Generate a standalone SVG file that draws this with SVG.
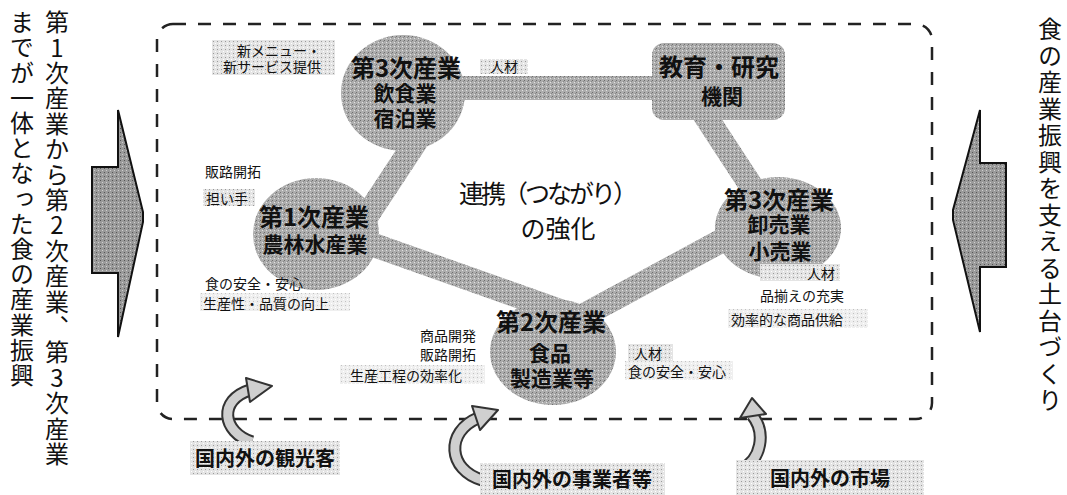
<svg xmlns="http://www.w3.org/2000/svg" width="1067" height="495" viewBox="0 0 1067 495">
<defs>
<pattern id="stip" width="4" height="4" patternUnits="userSpaceOnUse">
<rect width="4" height="4" fill="#adadad"/>
<rect x="0" y="0" width="1" height="1" fill="#6e6e6e"/>
<rect x="2" y="2" width="1" height="1" fill="#e2e2e2"/>
<rect x="3" y="1" width="1" height="1" fill="#8a8a8a"/>
</pattern>
<pattern id="light" width="4" height="4" patternUnits="userSpaceOnUse">
<rect width="4" height="4" fill="#e4e4e4"/>
<rect x="1" y="1" width="1" height="1" fill="#9a9a9a"/>
<rect x="3" y="3" width="1" height="1" fill="#ffffff"/>
</pattern>
<pattern id="dark" width="4" height="4" patternUnits="userSpaceOnUse">
<rect width="4" height="4" fill="#9a9a9a"/>
<rect x="0" y="0" width="1" height="1" fill="#555"/>
<rect x="2" y="2" width="1" height="1" fill="#d0d0d0"/>
</pattern>
</defs>
<style>
text { font-family: "Noto Sans CJK JP", "Noto Sans CJK SC", sans-serif; fill: #111; }
.vt { font-size: 24px; writing-mode: vertical-rl; text-orientation: upright; }
.big { font-size: 24px; font-weight: bold; text-anchor: middle; }
.mid { font-size: 21px; font-weight: bold; text-anchor: middle; }
.sm { font-size: 14px; }
.center { font-size: 25px; text-anchor: middle; }
.bl { font-size: 20px; font-weight: bold; text-anchor: middle; }
.band { fill: none; stroke: url(#stip); stroke-width: 24; }
.node { fill: url(#stip); }
.tag { fill: url(#light); }
.bigarrow { fill: url(#dark); stroke: #111; stroke-width: 2; stroke-linejoin: miter; }
.curve-o { fill: none; stroke: #333; stroke-width: 13; }
.curve-i { fill: none; stroke: #cfcfcf; stroke-width: 9; }
.head { fill: #cfcfcf; stroke: #333; stroke-width: 2; stroke-linejoin: round; }
</style>
<rect width="1067" height="495" fill="#ffffff"/>

<!-- side texts -->
<g id="left-text">
<text class="vt" x="57" y="10" letter-spacing="1.4">第1次産業から第2次産業、第3次産業</text>
<text class="vt" x="22" y="10" letter-spacing="1.2">までが一体となった食の産業振興</text>
</g>
<g id="right-text">
<text class="vt" x="1050" y="17" letter-spacing="2.5">食の産業振興を支える土台づくり</text>
</g>

<!-- big arrows -->
<g id="left-arrow">
<polygon class="bigarrow" points="92,167 118,167 118,110 143,212 143,222 118,337 118,273 92,273"/>
</g>
<g id="right-arrow">
<polygon class="bigarrow" points="1006,163 980,163 980,110 953,210 953,220 980,332 980,267 1006,267"/>
</g>

<!-- dashed frame -->
<g id="frame">
<rect x="157" y="24" width="775" height="395" rx="16" fill="none" stroke="#222" stroke-width="2.5" stroke-dasharray="13 12"/>
</g>

<!-- connectors -->
<g id="connectors">
<line class="band" x1="403" y1="88" x2="718" y2="88" stroke-width="21"/>
<line class="band" x1="695" y1="100" x2="770" y2="215" stroke-width="24"/>
<line class="band" x1="448" y1="93" x2="355" y2="234" stroke-width="28"/>
<line class="band" x1="320" y1="226" x2="580" y2="318" stroke-width="26"/>
<line class="band" x1="745" y1="228" x2="575" y2="320" stroke-width="26"/>
</g>

<!-- nodes -->
<g id="node-tertiary-food">
<ellipse class="node" cx="403" cy="93" rx="62" ry="58"/>
<text class="big" x="406" y="77">第3次産業</text>
<text class="mid" x="405" y="101" font-size="20">飲食業</text>
<text class="mid" x="405" y="126">宿泊業</text>
</g>
<g id="node-education">
<rect class="node" x="652" y="43" width="133" height="77" rx="12"/>
<text class="big" x="719" y="76">教育・研究</text>
<text class="mid" x="722" y="104">機関</text>
</g>
<g id="node-primary">
<ellipse class="node" cx="316" cy="234" rx="63" ry="56"/>
<text class="big" x="314" y="226">第1次産業</text>
<text class="mid" x="315" y="252">農林水産業</text>
</g>
<g id="node-tertiary-retail">
<ellipse class="node" cx="778" cy="228" rx="63" ry="51"/>
<text class="big" x="779" y="209">第3次産業</text>
<text class="mid" x="779" y="232">卸売業</text>
<text class="mid" x="780" y="259" font-size="22">小売業</text>
</g>
<g id="node-secondary">
<ellipse class="node" cx="553" cy="352" rx="63" ry="53"/>
<text class="big" x="551" y="331">第2次産業</text>
<text class="mid" x="550" y="361">食品</text>
<text class="mid" x="552" y="386" font-size="22">製造業等</text>
</g>

<!-- center label -->
<g id="center-label">
<text class="center" x="547" y="203" font-size="24" letter-spacing="-3">連携（つながり）</text>
<text class="center" x="558" y="238" font-size="26">の強化</text>
</g>

<!-- small labels -->
<g id="labels">
<rect class="tag" x="212" y="40" width="123" height="35"/>
<text class="sm" x="237" y="56">新メニュー・</text>
<text class="sm" x="223" y="72">新サービス提供</text>
<rect class="tag" x="480" y="59" width="48" height="15"/>
<text class="sm" x="490" y="72" font-size="13">人材</text>
<text class="sm" x="205" y="177">販路開拓</text>
<rect class="tag" x="203" y="189" width="52" height="17"/>
<text class="sm" x="206" y="204">担い手</text>
<text class="sm" x="205" y="289">食の安全・安心</text>
<rect class="tag" x="200" y="293" width="150" height="18" opacity="0.6"/>
<text class="sm" x="203" y="309" font-size="15">生産性・品質の向上</text>
<rect class="tag" x="760" y="264" width="80" height="17"/>
<text class="sm" x="807" y="279">人材</text>
<text class="sm" x="760" y="301" font-size="16">品揃えの充実</text>
<rect class="tag" x="728" y="309" width="140" height="19" opacity="0.6"/>
<text class="sm" x="731" y="325" font-size="16">効率的な商品供給</text>
<text class="sm" x="420" y="341" font-size="15">商品開発</text>
<text class="sm" x="420" y="360" font-size="15">販路開拓</text>
<rect class="tag" x="340" y="365" width="145" height="19" opacity="0.6"/>
<text class="sm" x="350" y="381" font-size="16">生産工程の効率化</text>
<rect class="tag" x="628" y="344" width="45" height="17"/>
<text class="sm" x="634" y="359" font-size="15">人材</text>
<rect class="tag" x="625" y="361" width="108" height="19" opacity="0.6"/>
<text class="sm" x="628" y="377" font-size="15">食の安全・安心</text>
</g>

<!-- bottom curved arrows -->
<g id="curved-arrows">
<path class="curve-o" d="M252,442 C222,432 218,400 250,390"/>
<path class="curve-i" d="M252,442 C222,432 218,400 250,390"/>
<polygon class="head" points="246,378 272,386 250,402"/>
<path class="curve-o" d="M482,480 C448,470 445,432 478,418"/>
<path class="curve-i" d="M482,480 C448,470 445,432 478,418"/>
<polygon class="head" points="472,406 498,410 480,430"/>
<path class="curve-o" d="M740,470 C762,460 766,432 752,415"/>
<path class="curve-i" d="M740,470 C762,460 766,432 752,415"/>
<polygon class="head" points="740,418 752,398 766,414"/>
</g>

<!-- bottom boxes -->
<g id="box-tourists">
<rect class="tag" x="190" y="441" width="150" height="34"/>
<text class="bl" x="265" y="466">国内外の観光客</text>
</g>
<g id="box-business">
<rect class="tag" x="480" y="463" width="185" height="32"/>
<text class="bl" x="572" y="487">国内外の事業者等</text>
</g>
<g id="box-market">
<rect class="tag" x="736" y="460" width="188" height="35"/>
<text class="bl" x="830" y="486">国内外の市場</text>
</g>
</svg>
